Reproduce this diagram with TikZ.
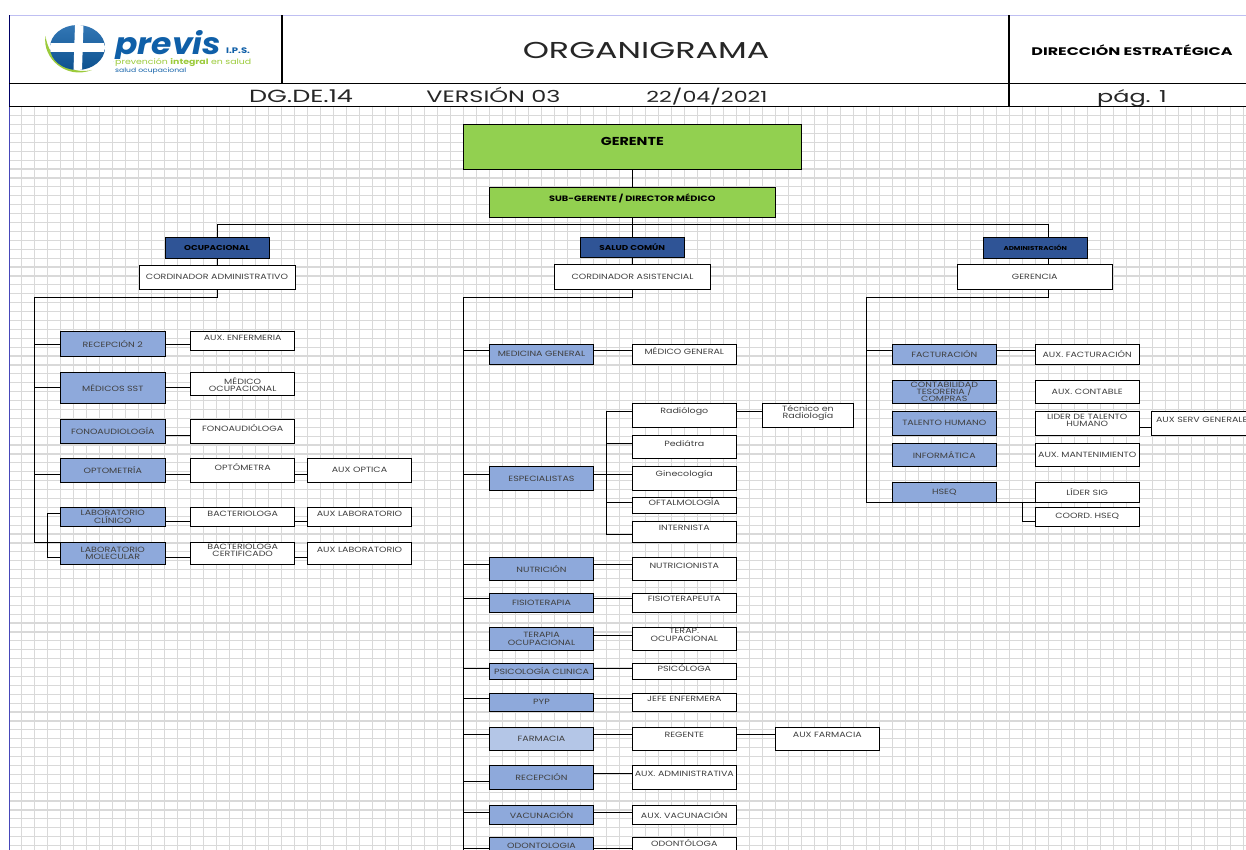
\documentclass[tikz,border=0pt]{standalone}
\usepackage{fontspec}
\setmainfont[FakeStretch=1.25]{Poppins}
\newfontfamily\widefont[FakeStretch=1.45]{Poppins}
\newfontfamily\logofont[FakeStretch=1.1]{Poppins}
\definecolor{areablue}{HTML}{8EA9DB}
\definecolor{arealight}{HTML}{B4C6E7}
\definecolor{headblue}{HTML}{2F5496}
\definecolor{topgreen}{HTML}{92D050}
\definecolor{gridgrey}{HTML}{D9D9D9}
\definecolor{logoblue}{HTML}{0F5FA8}
\definecolor{logogreen}{HTML}{9CCB3B}
\definecolor{txtgrey}{HTML}{404040}
\tikzset{
  topbox/.style={draw, line width=1pt, fill=topgreen, inner sep=0pt, outer sep=0pt, align=center},
  headbox/.style={draw, line width=1pt, fill=headblue, inner sep=0pt, outer sep=0pt, minimum width=104, align=center, font=\fontsize{7.1}{8}\selectfont\bfseries},
  areabox/.style={draw, line width=1pt, fill=areablue, inner sep=0pt, outer sep=0pt, minimum width=104.5, align=center, text=txtgrey, font=\fontsize{7.6}{7.3}\selectfont},
  rolebox/.style={draw, line width=1pt, fill=white, inner sep=0pt, outer sep=0pt, minimum width=104, align=center, text=txtgrey, font=\fontsize{7.6}{7.3}\selectfont},
  boxtxt/.style={inner sep=0pt, align=center, text=txtgrey, font=\fontsize{7.6}{7.3}\selectfont},
  link/.style={line width=1pt, line cap=rect},
  hdrline/.style={line width=1pt},
  hdrtxt/.style={inner sep=0pt, anchor=base, text=black!85, font=\widefont\fontsize{16.5}{18}\selectfont},
}
\begin{document}
\begin{tikzpicture}[x=1pt,y=-1pt]
\useasboundingbox (0,0) rectangle (1246,850);
\fill[white] (0,0) rectangle (1246,850);
% grid
\foreach \gx in {0,...,94} \draw[gridgrey, line width=1.2pt] (21.7+13*\gx,107) -- (21.7+13*\gx,850);
\foreach \gy in {0,...,82} \draw[gridgrey, line width=1.2pt] (9,115.7+8.9*\gy) -- (1246,115.7+8.9*\gy);
% header
\draw[color=black!20!blue!25, line width=1pt] (9,15.5) -- (1246,15.5);
\draw[color=blue!45!gray, line width=1pt] (9.5,107) -- (9.5,850);
\draw[hdrline, color=blue!40!black] (9.5,15.5) -- (9.5,107);
\draw[hdrline, line width=1.5pt] (282,15.5) -- (282,83.3);
\draw[hdrline, line width=1.5pt] (1009,15.5) -- (1009,107);
\draw[hdrline] (9,83.3) -- (1246,83.3);
\draw[hdrline] (9,106.7) -- (1246,106.7);
% logo
\fill[logogreen] (45.5,36) .. controls (42,58) and (66,80) .. (92,70) .. controls (70,75) and (49,60) .. (45.5,36) -- cycle;
\begin{scope}
\clip (77.5,47.5) ellipse (27.5 and 22.5);
\shade[top color=logoblue!85!white, bottom color=logoblue!85!black] (50,25) rectangle (105,70);
\fill[white] (75,25) -- (83.5,25) -- (82,70) -- (73.5,70) -- cycle;
\fill[white] (50,43.5) rectangle (105,52.5);
\end{scope}
\node[anchor=base west, inner sep=0pt, text=logoblue, font=\logofont\fontsize{30}{30}\selectfont\bfseries\itshape] (logoname) at (115,55) {previs};
\node[anchor=base west, inner sep=0pt, text=logoblue, font=\fontsize{8}{8}\selectfont\bfseries] (logoips) at (226,53.5) {I.P.S.};
\fill[white] (114,58.6) rectangle (252,66.5);
\node[anchor=base west, inner sep=0pt, text=logogreen, font=\fontsize{7.5}{9}\selectfont] (logoslog) at (115,65) {prevención \textbf{integral} en salud};
\node[anchor=base west, inner sep=0pt, text=logoblue, font=\fontsize{6.1}{8}\selectfont] (logosub) at (115,72.5) {salud ocupacional};
\node[inner sep=0pt, text=black!85, font=\widefont\fontsize{23}{26}\selectfont] (title) at (646,50) {ORGANIGRAMA};
\node[inner sep=0pt, font=\widefont\fontsize{11}{13}\selectfont\bfseries] (dirtxt) at (1132,50) {DIRECCIÓN ESTRATÉGICA};
\node[hdrtxt, font=\widefont\fontsize{17.6}{19}\selectfont] (doccode) at (301,103) {DG.DE.14};
\node[hdrtxt] (docver) at (493.5,103) {VERSIÓN 03};
\node[hdrtxt, font=\widefont\fontsize{15.3}{17}\selectfont] (docdate) at (707,103) {22/04/2021};
\node[hdrtxt] (docpag) at (1132,103) {pág. 1};
% top
\node[topbox, minimum width=338, minimum height=45, label={[yshift=5.5, inner sep=0pt, font=\fontsize{11.5}{13}\selectfont\bfseries]center:GERENTE}] (ger) at (632.3,146.8){};
\node[topbox, minimum width=286, minimum height=29.6, label={[yshift=4, inner sep=0pt, font=\fontsize{7.8}{9}\selectfont\bfseries]center:SUB-GERENTE / DIRECTOR MÉDICO}] (sub) at (632.3,202.5){};
\node[headbox, minimum height=20.5] (ocu) at (217,247.75){OCUPACIONAL};
\node[rolebox, minimum width=156, minimum height=24] (ocu0) at (217,277){CORDINADOR ADMINISTRATIVO};
\node[headbox, minimum height=20.4] (com) at (632.3,247.5){SALUD COMÚN};
\node[rolebox, minimum width=155.6, minimum height=25] (com0) at (632.5,276.8){CORDINADOR ASISTENCIAL};
\node[headbox, minimum height=20.7, font=\fontsize{5.7}{7}\selectfont\bfseries] (adm) at (1035.3,247.65){ADMINISTRACIÓN};
\node[rolebox, minimum width=155, minimum height=25] (adm0) at (1034.8,276.8){GERENCIA};
\draw[link](ger) -- (sub);
\draw[link](sub) -- (com);
\draw[link](com) -- (com0);
\coordinate (busL) at (217,224.3);
\coordinate (busR) at (1048.3,224.3);
\draw[link](busL) -- (busR);
\draw[link](busL) -- (ocu);
\draw[link](busR) -- (busR |- adm.north);
\draw[link](ocu) -- (ocu0);
\draw[link](busR |- adm.south) -- (busR |- adm0.north);
% ocupacional
\coordinate (ocuT) at (34.5,297);
\coordinate (ocuB) at (34.5,542.3);
\coordinate (ocuL) at (47.3,513.7);
\coordinate (ocuM) at (47.3,557);
\draw[link](ocu0) -- (ocu0 |- ocuT) -- (ocuT) -- (ocuB);
\node[areabox, minimum height=24.3] (oa1) at (112.8,343.85){RECEPCIÓN 2};
\node[rolebox, minimum height=18.6, label={[boxtxt,yshift=3.3]center:AUX. ENFERMERIA}] (or1) at (242.7,341){};
\draw[link](ocuT |- 0,344) -- (oa1.west |- 0,344);
\draw[link](oa1.east |- 0,344) -- (or1.west |- 0,344);
\node[areabox, minimum height=30.7] (oa2) at (112.8,387.65){MÉDICOS SST};
\node[rolebox, minimum height=23, label={[boxtxt,yshift=-0.7]center:MÉDICO\\OCUPACIONAL}] (or2) at (242.7,383.8){};
\draw[link](ocuT |- 0,387) -- (oa2.west |- 0,387);
\draw[link](oa2.east |- 0,387) -- (or2.west |- 0,387);
\node[areabox, minimum height=23.6] (oa3) at (112.8,431.5){FONOAUDIOLOGÍA};
\node[rolebox, minimum height=23.6, label={[boxtxt,yshift=3.8]center:FONOAUDIÓLOGA}] (or3) at (242.7,431.5){};
\draw[link](oa3.east |- 0,435.3) -- (or3.west |- 0,435.3);
\node[areabox, minimum height=23.7] (oa4) at (112.8,470.15){OPTOMETRÍA};
\node[rolebox, minimum height=23.7, label={[boxtxt,yshift=3.5]center:OPTÓMETRA}] (or4) at (242.7,470.15){};
\node[rolebox, minimum width=104.4, minimum height=23.7] (ox4) at (359.5,470.15){AUX OPTICA};
\draw[link](ocuT |- 0,474.3) -- (oa4.west |- 0,474.3);
\draw[link](oa4.east |- 0,474.3) -- (or4.west |- 0,474.3);
\draw[link](or4.east |- 0,474.3) -- (ox4.west |- 0,474.3);
\node[areabox, minimum height=19] (oa5) at (112.8,516.8){LABORATORIO\\CLÍNICO};
\node[rolebox, minimum height=19, label={[boxtxt,yshift=3.1]center:BACTERIOLOGA}] (or5) at (242.7,516.8){};
\node[rolebox, minimum width=104.4, minimum height=19, label={[boxtxt,yshift=3.1]center:AUX LABORATORIO}] (ox5) at (359.5,516.8){};
\draw[link](oa5.east |- 0,521) -- (or5.west |- 0,521);
\draw[link](or5.east |- 0,521) -- (ox5.west |- 0,521);
\node[areabox, minimum height=22.4] (oa6) at (112.8,553.5){LABORATORIO\\MOLECULAR};
\node[rolebox, minimum height=22.4, label={[boxtxt,yshift=3.2]center:BACTERIOLOGA\\CERTIFICADO}] (or6) at (242.7,553.5){};
\node[rolebox, minimum width=104.4, minimum height=22.4, label={[boxtxt,yshift=3.8]center:AUX LABORATORIO}] (ox6) at (359.5,553.5){};
\draw[link](oa6.east |- 0,557) -- (or6.west |- 0,557);
\draw[link](or6.east |- 0,557) -- (ox6.west |- 0,557);
\draw[link](ocuB) -- (oa6.west |- ocuB);
\draw[link](oa5.west |- ocuL) -- (ocuL) -- (ocuM) -- (oa6.west |- ocuM);
% salud comun
\coordinate (comT) at (463.5,297);
\coordinate (comB) at (463.5,856);
\draw[link](com0) -- (com0 |- comT) -- (comT) -- (comB);
\node[areabox, minimum height=20] (ca1) at (541.5,354.3){MEDICINA GENERAL};
\node[rolebox, minimum height=20, label={[boxtxt,yshift=3.6]center:MÉDICO GENERAL}] (cr1) at (684.3,354.3){};
\draw[link](comT |- 0,350) -- (ca1.west |- 0,350);
\draw[link](ca1.east |- 0,350) -- (cr1.west |- 0,350);
\node[rolebox, minimum height=23.7, label={[boxtxt,yshift=3.5]center:Radiólogo}] (cs1) at (684.3,415.15){};
\node[rolebox, minimum width=91.4, minimum height=23.7, label={[boxtxt,yshift=2]center:Técnico en\\Radiología}] (cx1) at (808,415.15){};
\node[rolebox, minimum height=23, label={[boxtxt,yshift=3.2]center:Pediátra}] (cs2) at (684.3,446.8){};
\node[rolebox, minimum height=23.3, label={[boxtxt,yshift=3.7]center:Ginecología}] (cs3) at (684.3,478.35){};
\node[rolebox, minimum height=16, label={[boxtxt,yshift=3.6]center:OFTALMOLOGÍA}] (cs4) at (684.3,505.3){};
\node[rolebox, minimum height=21, label={[boxtxt,yshift=4.1]center:INTERNISTA}] (cs5) at (684.3,531.8){};
\node[areabox, minimum height=23.3] (ca2) at (541.5,478.35){ESPECIALISTAS};
\coordinate (speT) at (606.3,411.3);
\coordinate (speB) at (606.3,534.3);
\draw[link](comT |- 0,474.7) -- (ca2.west |- 0,474.7);
\draw[link](ca2.east |- 0,474.7) -- (cs3.west |- 0,474.7);
\draw[link](cs1.west |- speT) -- (speT) -- (speB) -- (cs5.west |- speB);
\draw[link](speT |- 0,443.3) -- (cs2.west |- 0,443.3);
\draw[link](speT |- 0,502.7) -- (cs4.west |- 0,502.7);
\draw[link](cs1.east |- speT) -- (cx1.west |- speT);
\node[areabox, minimum height=23] (ca3) at (541.5,568.8){NUTRICIÓN};
\node[rolebox, minimum height=23, label={[boxtxt,yshift=2.8]center:NUTRICIONISTA}] (cr3) at (684.3,568.8){};
\draw[link](comT |- 0,564.3) -- (ca3.west |- 0,564.3);
\draw[link](ca3.east |- 0,564.3) -- (cr3.west |- 0,564.3);
\node[areabox, minimum height=19] (ca4) at (541.5,602.8){FISIOTERAPIA};
\node[rolebox, minimum height=19, label={[boxtxt,yshift=4.1]center:FISIOTERAPEUTA}] (cr4) at (684.3,602.8){};
\draw[link](comT |- 0,598.3) -- (ca4.west |- 0,598.3);
\draw[link](ca4.east |- 0,598.3) -- (cr4.west |- 0,598.3);
\node[areabox, minimum height=23] (ca5) at (541.5,638.8){TERAPIA\\OCUPACIONAL};
\node[rolebox, minimum height=23, label={[boxtxt,yshift=3.8]center:TERAP.\\OCUPACIONAL}] (cr5) at (684.3,638.8){};
\draw[link](ca5.east |- 0,635.3) -- (cr5.west |- 0,635.3);
\node[areabox, minimum height=16] (ca6) at (541.5,671.3){PSICOLOGÍA CLINICA};
\node[rolebox, minimum height=16, label={[boxtxt,yshift=3.6]center:PSICÓLOGA}] (cr6) at (684.3,671.3){};
\draw[link](comT |- 0,668) -- (ca6.west |- 0,668);
\draw[link](ca6.east |- 0,668) -- (cr6.west |- 0,668);
\node[areabox, minimum height=18] (ca7) at (541.5,702.3){PYP};
\node[rolebox, minimum height=18, label={[boxtxt,yshift=3.3]center:JEFE ENFERMERA}] (cr7) at (684.3,702.3){};
\draw[link](comT |- 0,698.3) -- (ca7.west |- 0,698.3);
\draw[link](ca7.east |- 0,698.3) -- (cr7.west |- 0,698.3);
\node[areabox, fill=arealight, minimum height=23] (ca8) at (541.5,738.8){FARMACIA};
\node[rolebox, minimum height=23, label={[boxtxt,yshift=4.1]center:REGENTE}] (cr8) at (684.3,738.8){};
\node[rolebox, minimum height=23, label={[boxtxt,yshift=4.1]center:AUX FARMACIA}] (cx8) at (827.3,738.8){};
\draw[link](comT |- 0,734.3) -- (ca8.west |- 0,734.3);
\draw[link](ca8.east |- 0,734.3) -- (cr8.west |- 0,734.3);
\draw[link](cr8.east |- 0,734.3) -- (cx8.west |- 0,734.3);
\node[areabox, minimum height=24] (ca9) at (541.5,777.3){RECEPCIÓN};
\node[rolebox, minimum height=24, label={[boxtxt,yshift=3.6]center:AUX. ADMINISTRATIVA}] (cr9) at (684.3,777.3){};
\draw[link](comT |- 0,781.3) -- (ca9.west |- 0,781.3);
\draw[link](ca9.east |- 0,773.3) -- (cr9.west |- 0,773.3);
\node[areabox, minimum height=19] (ca10) at (541.5,814.8){VACUNACIÓN};
\node[rolebox, minimum height=19] (cr10) at (684.3,814.8){AUX. VACUNACIÓN};
\draw[link](comT |- 0,812.3) -- (ca10.west |- 0,812.3);
\draw[link](ca10.east |- 0,812.3) -- (cr10.west |- 0,812.3);
\node[areabox, minimum height=24, label={[boxtxt,yshift=3.2]center:ODONTOLOGIA}] (ca11) at (541.5,849.3){};
\node[rolebox, minimum height=24, label={[boxtxt,yshift=6]center:ODONTÓLOGA}] (cr11) at (684.3,849.3){};
\draw[link](comT |- 0,848.3) -- (ca11.west |- 0,848.3);
\draw[link](ca11.east |- 0,848.3) -- (cr11.west |- 0,848.3);
% administracion
\coordinate (admT) at (866.5,297);
\coordinate (admB) at (866.5,502.3);
\draw[link](busR |- adm0.south) -- (busR |- admT) -- (admT) -- (admB);
\node[areabox, minimum height=20] (aa1) at (944.3,354.3){FACTURACIÓN};
\node[rolebox, minimum height=20] (ar1) at (1087.2,354.3){AUX. FACTURACIÓN};
\draw[link](admT |- 0,350.3) -- (aa1.west |- 0,350.3);
\draw[link](aa1.east |- 0,350.3) -- (ar1.west |- 0,350.3);
\node[areabox, minimum height=23] (aa2) at (944.3,391.8){CONTABILIDAD\\TESORERIA /\\COMPRAS};
\node[rolebox, minimum height=23] (ar2) at (1087.2,391.8){AUX. CONTABLE};
\node[areabox, minimum height=24] (aa3) at (944.3,423.3){TALENTO HUMANO};
\node[rolebox, minimum height=24, label={[boxtxt,yshift=3.3]center:LIDER DE TALENTO\\HUMANO}] (ar3) at (1087.2,423.3){};
\node[rolebox, minimum height=24, label={[boxtxt,anchor=west,xshift=4.5,yshift=3.3]west:AUX SERV GENERALE}] (ax3) at (1203.3,423.3){};
\draw[link](ar3.east |- 0,427.3) -- (ax3.west |- 0,427.3);
\node[areabox, minimum height=23] (aa4) at (944.3,454.8){INFORMÁTICA};
\node[rolebox, minimum height=23] (ar4) at (1087.2,454.8){AUX. MANTENIMIENTO};
\node[areabox, minimum height=20] (aa5) at (944.3,492.3){HSEQ};
\node[rolebox, minimum height=20] (ar5) at (1087.2,492.3){LÍDER SIG};
\node[rolebox, minimum height=19] (ar6) at (1087.2,516.8){COORD. HSEQ};
\draw[link](admB) -- (aa5.south west);
\draw[link](aa5.south east) -- (ar5.south west);
\coordinate (hseJ) at (1022.7,502.3);
\draw[link](hseJ) |- (ar6.west |- 0,521.7);
\end{tikzpicture}
\end{document}
